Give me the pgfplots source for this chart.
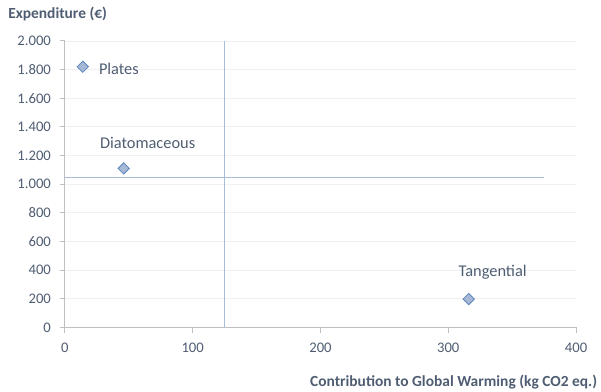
\documentclass[border=0pt]{standalone}
\usepackage{pgfplots}
\pgfplotsset{compat=1.18}
\usepackage{fontspec}
\setmainfont{Carlito}
\definecolor{txt}{HTML}{4F5D73}
\definecolor{mk}{HTML}{A7B8D6}
\definecolor{mkedge}{HTML}{5B86BF}
\definecolor{refl}{HTML}{A9BCD8}
\definecolor{axc}{HTML}{BFBFBF}
\begin{document}
\begin{tikzpicture}
\useasboundingbox (-48.75pt,-48pt) rectangle (402.75pt,246pt);
\begin{axis}[
  at={(0,0)}, anchor=south west,
  scale only axis,
  width=384pt, height=215.25pt,
  xmin=0, xmax=400, ymin=0, ymax=2000,
  xtick={0,100,...,400},
  ytick={0,200,...,2000},
  axis lines=left,
  axis line style={-, draw=axc, line width=0.8pt},
  tick align=outside,
  major tick length=4pt,
  tick style={draw=axc, line width=0.8pt},
  ymajorgrids,
  grid style={draw=gray!12, line width=0.6pt},
  ticklabel style={font=\fontsize{11}{13}\selectfont, text=txt},
  /pgf/number format/assume math mode=true,
  /pgf/number format/1000 sep={.},
  scaled y ticks=false,
  yticklabel style={xshift=-3pt},
  xticklabel style={yshift=-4pt},
  clip=false,
]
% reference lines (averages)
\addplot[refl, line width=0.8pt, no marks] coordinates {(125,0) (125,2000)};
\addplot[refl, line width=0.8pt, no marks] coordinates {(0,1045) (375,1045)};
% data
\addplot[only marks, mark=square*, mark size=3pt, mark options={rotate=45, fill=mk, draw=mkedge, line width=0.6pt}]
  coordinates {(14,1820) (46,1110) (316,198)};
\node[anchor=west, text=txt, font=\fontsize{12.3}{14}\selectfont, inner sep=0pt] at (axis cs:14,1820) [xshift=12pt,yshift=-1.5pt] {Plates};
\node[text=txt, font=\fontsize{12.3}{14}\selectfont] at (axis cs:46,1110) [xshift=18pt,yshift=19.5pt] {Diatomaceous};
\node[text=txt, font=\fontsize{12.3}{14}\selectfont] at (axis cs:316,198) [xshift=18pt,yshift=20pt] {Tangential};
\end{axis}
\node[anchor=west, text=txt, inner sep=0pt, font=\bfseries\fontsize{11.6}{13}\selectfont] at (-42.75pt,235.5pt) {Expenditure (€)};
\node[anchor=east, text=txt, inner sep=0pt, font=\bfseries\fontsize{11.6}{13}\selectfont] at (400pt,-41.25pt) {Contribution to Global Warming (kg CO2 eq.)};
\end{tikzpicture}
\end{document}
